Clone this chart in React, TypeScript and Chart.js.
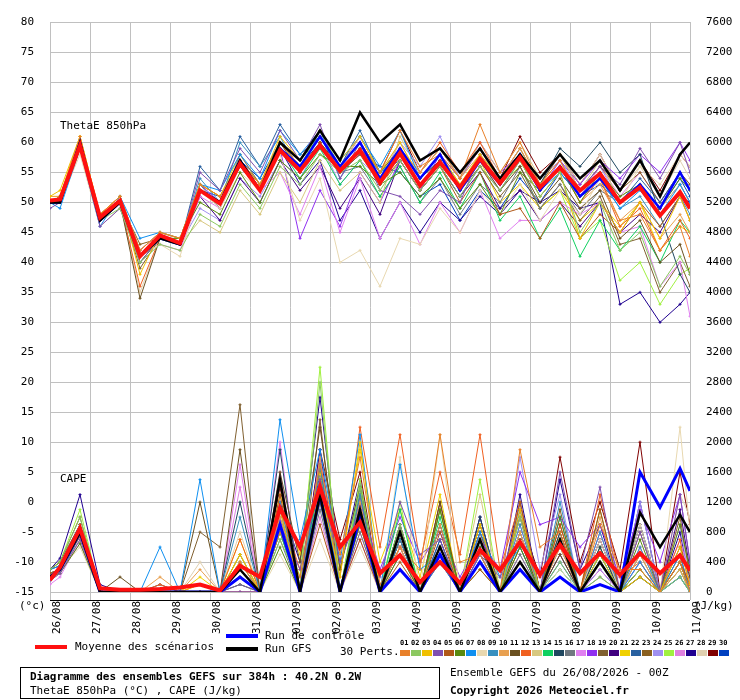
import React, { useEffect, useRef } from "react";
import { Chart, registerables } from "chart.js";

Chart.register(...registerables);

// forecast hours of each sample (00Z start, then 06Z / 18Z)
const hours = [0, 6, 18, 30, 42, 54, 66, 78, 90, 102, 114, 126, 138, 150, 162, 174, 186, 198, 210, 222, 234, 246, 258, 270, 282, 294, 306, 318, 330, 342, 354, 366, 378, 384];
const dateLabels = ["26/08", "27/08", "28/08", "29/08", "30/08", "31/08", "01/09", "02/09", "03/09", "04/09", "05/09", "06/09", "07/09", "08/09", "09/09", "10/09", "11/09"];

const pertColors = ["#e8802a", "#8cc860", "#f0c000", "#8050b0", "#b05818", "#5a8a10", "#1090f0", "#e8d8b0", "#3890c0", "#e8a050", "#6a5020", "#f06020", "#d8c880", "#10d060", "#204860", "#707880", "#e080f0", "#9030f0", "#806030", "#400080", "#f0d000", "#2860a0", "#8a6020", "#a090f0", "#a0f040", "#e080e0", "#200090", "#e0d0b0", "#800000", "#0040c0"];

// ThetaE 850hPa (°C)
const thetaMean = [50.3, 50.5, 59.5, 47.5, 50.3, 41, 44.5, 43.2, 52, 49.8, 56.5, 52, 58.7, 55.3, 59.5, 55.3, 58.7, 53.3, 58.2, 52.8, 56.7, 52.5, 57.3, 53.2, 57.5, 52.5, 55.8, 52, 54.8, 50, 52.5, 47.8, 51.7, 49];
const thetaControl = [50, 50, 60, 47, 50, 41, 44, 43, 52, 50, 57, 52, 59, 56, 61, 56, 60, 54, 59, 54, 58, 52, 57, 53, 58, 52, 56, 51, 54, 50, 53, 49, 55, 52];
const thetaGfs = [50, 50, 60, 47, 50, 41, 44, 43, 52, 50, 57, 52, 60, 57, 62, 57, 65, 60, 63, 57, 59, 55, 59, 54, 58, 54, 58, 54, 57, 52, 57, 51, 58, 60];
const thetaPerts = [
  [50, 51, 61, 48, 51, 42, 45, 44, 53, 51, 57, 53, 60, 56, 61, 56, 60, 55, 62, 56, 58, 54, 63, 55, 60, 53, 57, 51, 54, 47, 48, 42, 46, 41],
  [50, 50, 59, 47, 49, 40, 43, 42, 48, 46, 53, 49, 56, 53, 58, 55, 57, 52, 57, 52, 56, 51, 56, 52, 57, 51, 55, 45, 50, 42, 45, 36, 41, 38],
  [51, 52, 61, 48, 51, 38, 45, 44, 53, 51, 57, 53, 61, 57, 62, 57, 61, 55, 60, 54, 58, 53, 58, 54, 57, 51, 55, 44, 50, 45, 50, 44, 51, 47],
  [49, 50, 59, 46, 49, 40, 44, 43, 55, 52, 59, 55, 62, 57, 63, 54, 60, 52, 51, 48, 52, 50, 58, 53, 57, 52, 56, 52, 56, 53, 59, 54, 60, 55],
  [50, 50, 59, 47, 50, 41, 44, 43, 52, 50, 56, 52, 59, 55, 60, 55, 58, 53, 57, 52, 56, 50, 55, 48, 49, 44, 50, 44, 48, 45, 50, 46, 51, 47],
  [50, 51, 60, 48, 50, 40, 44, 44, 50, 48, 55, 50, 57, 54, 58, 56, 56, 53, 55, 51, 54, 49, 53, 48, 55, 52, 56, 50, 55, 51, 53, 49, 54, 52],
  [50, 49, 59, 46, 51, 44, 45, 44, 53, 52, 58, 54, 62, 58, 62, 57, 61, 56, 62, 54, 58, 52, 57, 53, 58, 52, 55, 51, 54, 49, 52, 48, 53, 50],
  [50, 50, 58, 46, 49, 41, 43, 41, 52, 49, 55, 52, 58, 47, 54, 40, 42, 36, 44, 43, 49, 45, 52, 48, 53, 47, 52, 48, 54, 50, 56, 53, 58, 56],
  [50, 50, 59, 47, 50, 40, 44, 43, 54, 50, 60, 56, 61, 55, 62, 54, 59, 55, 58, 53, 57, 52, 57, 54, 58, 52, 56, 51, 54, 49, 51, 46, 51, 48],
  [51, 51, 60, 48, 51, 42, 45, 44, 53, 51, 57, 53, 60, 56, 61, 56, 60, 54, 59, 55, 59, 54, 58, 54, 59, 53, 57, 50, 53, 47, 50, 44, 48, 45],
  [50, 50, 60, 47, 50, 34, 44, 43, 52, 50, 57, 53, 60, 55, 60, 55, 59, 54, 58, 53, 57, 52, 57, 52, 56, 50, 54, 49, 52, 44, 47, 40, 43, 38],
  [50, 51, 60, 47, 50, 36, 44, 43, 52, 50, 56, 52, 59, 55, 60, 55, 59, 54, 59, 55, 60, 55, 60, 54, 58, 52, 56, 50, 54, 46, 49, 42, 47, 44],
  [50, 50, 59, 47, 50, 41, 44, 43, 47, 45, 52, 48, 55, 50, 57, 52, 55, 50, 61, 55, 59, 54, 60, 55, 60, 54, 58, 52, 57, 50, 53, 49, 53, 50],
  [50, 50, 60, 47, 50, 41, 44, 43, 52, 50, 56, 52, 59, 54, 59, 53, 57, 51, 56, 50, 55, 49, 55, 47, 51, 44, 49, 41, 47, 42, 46, 40, 47, 45],
  [50, 50, 60, 47, 50, 41, 44, 43, 52, 50, 57, 52, 59, 56, 60, 56, 60, 54, 59, 54, 57, 52, 57, 53, 58, 53, 59, 56, 60, 55, 58, 48, 38, 35],
  [50, 50, 59, 47, 50, 41, 44, 43, 53, 49, 58, 53, 60, 56, 59, 55, 56, 51, 56, 50, 54, 48, 53, 50, 56, 49, 53, 48, 52, 50, 53, 49, 53, 50],
  [50, 50, 59, 47, 50, 41, 43, 42, 51, 49, 56, 52, 55, 48, 56, 45, 54, 44, 50, 43, 50, 45, 52, 44, 47, 47, 50, 48, 50, 45, 46, 36, 40, 31],
  [50, 51, 60, 48, 51, 42, 45, 44, 53, 50, 57, 53, 59, 44, 52, 46, 55, 50, 57, 52, 58, 54, 60, 55, 58, 52, 57, 53, 57, 54, 58, 55, 60, 57],
  [50, 50, 60, 47, 50, 39, 44, 43, 52, 50, 57, 52, 60, 56, 61, 56, 60, 55, 59, 54, 57, 52, 56, 51, 55, 49, 53, 47, 51, 43, 44, 35, 40, 36],
  [50, 50, 59, 47, 50, 41, 44, 43, 51, 47, 54, 50, 57, 52, 56, 49, 54, 48, 57, 52, 56, 51, 55, 49, 52, 47, 50, 46, 50, 45, 48, 45, 51, 50],
  [51, 51, 61, 48, 51, 42, 45, 44, 53, 51, 58, 53, 60, 56, 61, 56, 60, 55, 59, 54, 58, 52, 57, 50, 53, 49, 52, 47, 50, 46, 50, 42, 46, 45],
  [50, 50, 59, 47, 50, 41, 44, 43, 56, 52, 61, 56, 63, 58, 61, 56, 62, 55, 57, 52, 56, 51, 56, 52, 57, 51, 55, 51, 55, 50, 54, 50, 55, 52],
  [50, 50, 60, 47, 50, 43, 44, 43, 52, 50, 57, 52, 59, 55, 60, 55, 59, 53, 58, 53, 57, 52, 57, 54, 59, 53, 58, 52, 56, 52, 55, 50, 55, 53],
  [50, 50, 59, 47, 50, 41, 44, 43, 49, 47, 54, 51, 57, 54, 60, 53, 57, 54, 60, 56, 61, 54, 59, 53, 58, 54, 57, 52, 56, 50, 53, 49, 53, 50],
  [50, 50, 60, 47, 50, 41, 44, 44, 53, 51, 57, 53, 60, 56, 62, 56, 60, 55, 59, 54, 58, 53, 58, 53, 56, 49, 52, 44, 47, 37, 40, 33, 38, 39],
  [50, 50, 59, 47, 50, 41, 44, 43, 52, 50, 56, 52, 59, 55, 60, 55, 59, 53, 58, 53, 57, 52, 57, 52, 57, 52, 56, 51, 56, 51, 55, 50, 55, 53],
  [50, 50, 59, 47, 50, 41, 44, 43, 52, 50, 56, 52, 59, 53, 57, 47, 52, 44, 50, 45, 50, 47, 51, 48, 52, 50, 52, 49, 50, 33, 35, 30, 33, 35],
  [50, 50, 60, 47, 50, 35, 44, 43, 52, 50, 57, 52, 60, 56, 61, 56, 61, 55, 60, 54, 58, 53, 58, 54, 59, 53, 58, 53, 58, 52, 56, 51, 57, 54],
  [50, 50, 60, 47, 50, 41, 44, 43, 52, 50, 57, 53, 60, 56, 61, 56, 61, 55, 62, 55, 59, 54, 59, 54, 61, 55, 58, 53, 58, 52, 57, 52, 58, 56],
  [50, 50, 60, 47, 50, 41, 44, 43, 52, 51, 57, 54, 60, 57, 61, 55, 58, 56, 55, 51, 53, 47, 52, 49, 54, 50, 55, 51, 53, 50, 53, 49, 54, 51],
];

// CAPE (J/kg), right axis
const capeMean = [160, 330, 850, 50, 30, 30, 40, 60, 100, 20, 350, 200, 1120, 600, 1400, 600, 930, 250, 490, 130, 400, 120, 560, 290, 670, 230, 630, 250, 520, 230, 520, 250, 490, 290];
const capeControl = [200, 300, 800, 0, 0, 0, 0, 0, 0, 0, 200, 0, 900, 0, 1300, 0, 1000, 0, 300, 0, 500, 0, 400, 0, 300, 0, 200, 0, 100, 0, 1600, 1130, 1650, 1350];
const capeGfs = [200, 300, 800, 0, 0, 0, 0, 0, 0, 0, 300, 0, 1500, 0, 1300, 0, 1100, 0, 800, 0, 600, 0, 700, 0, 400, 0, 700, 0, 400, 0, 1060, 600, 1030, 800];
const capePerts = [
  [200, 300, 900, 0, 0, 0, 0, 0, 0, 0, 400, 0, 800, 200, 1700, 500, 1800, 100, 600, 300, 2100, 400, 500, 0, 1900, 600, 800, 0, 900, 300, 300, 0, 400, 0],
  [300, 400, 1000, 0, 0, 0, 0, 0, 0, 0, 300, 0, 700, 100, 2800, 0, 1400, 0, 900, 0, 600, 0, 700, 0, 1000, 0, 400, 0, 200, 0, 300, 0, 200, 0],
  [200, 300, 800, 0, 0, 0, 0, 0, 100, 0, 500, 0, 1100, 0, 1400, 200, 2000, 0, 800, 0, 600, 0, 900, 0, 1100, 0, 700, 0, 500, 0, 200, 0, 600, 100],
  [150, 250, 700, 0, 0, 0, 0, 0, 0, 0, 0, 0, 900, 300, 1500, 400, 1100, 200, 1200, 500, 700, 0, 500, 200, 1000, 0, 1600, 300, 1400, 0, 800, 0, 1300, 400],
  [250, 300, 750, 0, 0, 0, 0, 0, 0, 0, 0, 0, 1300, 0, 900, 0, 700, 0, 400, 0, 800, 0, 300, 0, 1200, 0, 900, 0, 1100, 0, 200, 0, 400, 100],
  [200, 250, 650, 0, 0, 0, 0, 0, 0, 0, 200, 0, 600, 0, 1200, 0, 900, 0, 500, 0, 1100, 0, 300, 0, 600, 0, 1000, 0, 1100, 0, 700, 0, 900, 300],
  [300, 350, 900, 0, 0, 0, 600, 0, 1500, 0, 300, 0, 2300, 700, 1900, 400, 2100, 0, 1700, 300, 500, 0, 800, 200, 600, 0, 1000, 0, 500, 0, 400, 0, 200, 0],
  [200, 300, 600, 0, 0, 0, 0, 0, 0, 0, 200, 0, 500, 0, 700, 0, 600, 0, 1800, 0, 2100, 0, 700, 0, 400, 0, 300, 0, 700, 0, 900, 0, 2200, 800],
  [250, 300, 850, 0, 0, 0, 0, 0, 0, 0, 1000, 0, 1200, 0, 1700, 0, 1300, 0, 700, 0, 400, 0, 500, 0, 900, 0, 1200, 0, 800, 0, 600, 0, 500, 0],
  [200, 300, 800, 0, 0, 0, 200, 0, 300, 0, 400, 0, 1000, 0, 1800, 0, 1200, 0, 600, 0, 900, 0, 500, 0, 800, 0, 600, 0, 1000, 0, 500, 0, 300, 0],
  [300, 400, 900, 0, 200, 0, 0, 0, 1200, 0, 1900, 0, 1600, 400, 2200, 300, 1400, 0, 900, 0, 1200, 0, 600, 0, 700, 0, 500, 0, 400, 0, 300, 0, 600, 200],
  [200, 300, 800, 0, 0, 0, 100, 0, 100, 0, 700, 0, 1100, 300, 1500, 200, 2200, 600, 2100, 400, 1600, 500, 2100, 300, 1200, 0, 900, 0, 1300, 200, 400, 0, 700, 0],
  [150, 250, 700, 0, 0, 0, 0, 0, 0, 0, 300, 0, 900, 0, 1400, 0, 900, 0, 600, 0, 500, 0, 1300, 0, 800, 0, 600, 0, 400, 0, 500, 0, 300, 0],
  [200, 300, 800, 0, 0, 0, 0, 0, 0, 0, 400, 0, 800, 0, 1500, 0, 1400, 0, 1100, 0, 1000, 0, 600, 0, 700, 0, 300, 0, 500, 0, 200, 0, 300, 0],
  [300, 350, 900, 0, 0, 0, 100, 0, 0, 0, 1200, 0, 1900, 0, 1700, 0, 1100, 0, 700, 0, 900, 0, 1000, 0, 1100, 0, 800, 0, 600, 0, 900, 0, 400, 0],
  [250, 300, 750, 0, 0, 0, 0, 0, 0, 0, 100, 0, 700, 0, 1100, 0, 800, 0, 500, 0, 600, 0, 400, 0, 500, 0, 300, 0, 200, 0, 300, 0, 200, 0],
  [100, 200, 700, 0, 0, 0, 0, 0, 0, 0, 1700, 0, 2000, 0, 1200, 0, 700, 0, 300, 0, 600, 0, 500, 0, 900, 0, 600, 0, 800, 0, 400, 0, 700, 200],
  [200, 300, 900, 0, 0, 0, 0, 0, 0, 0, 0, 0, 1000, 0, 1800, 0, 1200, 300, 1000, 400, 800, 200, 700, 300, 1600, 900, 1000, 600, 900, 200, 1100, 400, 1300, 400],
  [300, 400, 1000, 0, 0, 0, 0, 0, 800, 600, 2500, 0, 1500, 0, 2300, 0, 1300, 0, 800, 0, 1100, 0, 900, 0, 700, 0, 800, 0, 600, 0, 400, 0, 300, 0],
  [200, 300, 800, 0, 0, 0, 0, 0, 0, 0, 100, 0, 900, 0, 1900, 0, 1300, 0, 600, 0, 400, 0, 1000, 0, 800, 0, 500, 0, 700, 0, 900, 0, 1100, 300],
  [250, 300, 850, 0, 0, 0, 0, 0, 200, 0, 700, 0, 1300, 500, 1600, 300, 1900, 400, 1100, 200, 1300, 0, 900, 0, 1000, 0, 700, 0, 500, 0, 300, 0, 400, 0],
  [200, 250, 750, 0, 0, 0, 0, 0, 0, 0, 300, 0, 1100, 0, 1500, 0, 1200, 0, 800, 0, 700, 0, 1000, 0, 1200, 0, 600, 0, 400, 0, 500, 0, 200, 0],
  [250, 300, 800, 0, 0, 0, 0, 0, 0, 0, 200, 0, 800, 0, 1300, 0, 900, 0, 700, 0, 900, 0, 800, 0, 600, 0, 1100, 0, 700, 0, 800, 0, 1000, 200],
  [200, 300, 750, 0, 0, 0, 0, 0, 0, 0, 400, 0, 900, 0, 1200, 0, 1000, 0, 600, 0, 500, 0, 700, 0, 1800, 300, 1300, 0, 800, 0, 1200, 0, 900, 100],
  [300, 400, 1100, 0, 0, 0, 0, 0, 0, 0, 500, 0, 1000, 200, 3000, 0, 1500, 0, 1200, 0, 1100, 0, 1500, 0, 1000, 0, 700, 0, 600, 0, 300, 0, 400, 0],
  [150, 250, 650, 0, 0, 0, 0, 0, 0, 0, 1400, 0, 1600, 0, 1000, 0, 800, 0, 700, 0, 600, 0, 800, 0, 500, 0, 700, 0, 300, 0, 600, 0, 400, 0],
  [300, 450, 1300, 100, 0, 0, 0, 0, 0, 0, 300, 0, 1200, 400, 2600, 300, 1500, 0, 900, 0, 600, 0, 800, 0, 1300, 0, 1500, 300, 900, 0, 1200, 0, 800, 100],
  [200, 300, 700, 0, 0, 0, 0, 0, 400, 0, 800, 0, 1300, 0, 1500, 0, 1100, 0, 600, 0, 500, 0, 700, 0, 600, 0, 900, 0, 800, 0, 600, 0, 1300, 1000],
  [250, 300, 850, 0, 0, 0, 0, 0, 0, 0, 500, 0, 1400, 0, 1900, 700, 1600, 0, 700, 0, 1200, 0, 900, 0, 1000, 200, 1800, 400, 1200, 300, 2000, 0, 1600, 900],
  [200, 300, 800, 0, 0, 0, 0, 0, 0, 0, 200, 0, 900, 0, 1600, 0, 1100, 0, 600, 0, 700, 0, 500, 0, 800, 0, 400, 0, 300, 0, 200, 0, 500, 0],
];

const FONT = "'DejaVu Sans Mono', monospace";

const toPoints = (vals: number[]) => vals.map((v, i) => ({ x: hours[i], y: v }));

// dessine les dates verticales, la ligne d'axe et les libellés
const extrasPlugin = {
  id: "extras",
  afterDraw(chart: any) {
    const { ctx, chartArea, scales } = chart;
    ctx.save();
    ctx.fillStyle = "#000";
    ctx.font = `11px ${FONT}`;
    ctx.textBaseline = "middle";
    dateLabels.forEach((d, i) => {
      const x = scales.x.getPixelForValue(i * 24);
      ctx.save();
      ctx.translate(x + 7, chartArea.bottom + 9);
      ctx.rotate(-Math.PI / 2);
      ctx.textAlign = "right";
      ctx.fillText(d, 0, 0);
      ctx.restore();
    });
    ctx.strokeStyle = "#000";
    ctx.lineWidth = 1;
    ctx.beginPath();
    ctx.moveTo(chartArea.left, chartArea.bottom + 8.5);
    ctx.lineTo(chartArea.right, chartArea.bottom + 8.5);
    ctx.stroke();
    ctx.textAlign = "left";
    ctx.fillText("(°c)", 19, chartArea.bottom + 14);
    ctx.fillText("(J/kg)", chartArea.right + 4, chartArea.bottom + 14);
    ctx.fillText("ThetaE 850hPa", 60, 126);
    ctx.fillText("CAPE", 60, 479);
    ctx.restore();
  },
};

const App: React.FC = () => {
  const canvasRef = useRef<HTMLCanvasElement>(null);
  const chartRef = useRef<Chart | null>(null);

  useEffect(() => {
    if (!canvasRef.current) return;
    if (chartRef.current) chartRef.current.destroy();

    const pert = (vals: number[], axis: string, color: string) => ({
      data: toPoints(vals), yAxisID: axis, borderColor: color, backgroundColor: color,
      borderWidth: 1, pointStyle: "cross", pointRadius: 1.5, pointBorderWidth: 1, order: 3,
    });
    const main = (vals: number[], axis: string, color: string, width: number, order: number) => ({
      data: toPoints(vals), yAxisID: axis, borderColor: color, backgroundColor: color,
      borderWidth: width, pointRadius: 0, order,
    });

    chartRef.current = new Chart(canvasRef.current, {
      type: "line",
      data: {
        datasets: [
          ...thetaPerts.map((v, i) => pert(v, "y", pertColors[i])),
          ...capePerts.map((v, i) => pert(v, "y2", pertColors[i])),
          main(thetaControl, "y", "#0000ff", 2.5, 2),
          main(capeControl, "y2", "#0000ff", 3, 2),
          main(thetaGfs, "y", "#000000", 2.5, 1),
          main(capeGfs, "y2", "#000000", 2.5, 1),
          main(thetaMean, "y", "#ff1010", 4, 0),
          main(capeMean, "y2", "#ff1010", 4, 0),
        ],
      },
      options: {
        animation: false,
        responsive: false,
        devicePixelRatio: 1,
        layout: { padding: { top: 22, left: 0, right: 0, bottom: 0 } },
        plugins: { legend: { display: false }, tooltip: { enabled: false } },
        scales: {
          x: {
            type: "linear", min: 0, max: 384,
            afterFit: (s: any) => { s.height = 108; },
            afterBuildTicks: (s: any) => { s.ticks = dateLabels.map((_, i) => ({ value: i * 24 })); },
            ticks: { display: false },
            grid: { color: "#c0c0c0", tickLength: 8, tickColor: "#c0c0c0" },
            border: { display: false },
          },
          y: {
            position: "left", min: -15, max: 80,
            afterFit: (s: any) => { s.width = 50; },
            ticks: { stepSize: 5, color: "#000", font: { family: FONT, size: 11 }, padding: 16 },
            grid: { color: "#c0c0c0", drawTicks: false },
            border: { color: "#c0c0c0" },
          },
          y2: {
            position: "right", min: 0, max: 7600,
            afterFit: (s: any) => { s.width = 50; },
            ticks: { stepSize: 400, color: "#000", font: { family: FONT, size: 11 }, padding: 8, callback: (v: any) => String(v) },
            grid: { display: false },
            border: { color: "#c0c0c0" },
          },
        },
      },
      plugins: [extrasPlugin],
    } as any);

    return () => {
      if (chartRef.current) {
        chartRef.current.destroy();
        chartRef.current = null;
      }
    };
  }, []);

  const txt: React.CSSProperties = { position: "absolute", fontFamily: FONT, fontSize: 11, color: "#000", whiteSpace: "nowrap", lineHeight: "12px" };

  return (
    <div style={{ position: "absolute", left: 0, top: 0, width: 740, height: 700, background: "#fff", overflow: "hidden" }}>
      <canvas ref={canvasRef} width={740} height={700} style={{ position: "absolute", left: 0, top: 0 }} />
      {/* légende */}
      <div style={{ position: "absolute", left: 35, top: 645, width: 32, height: 4, background: "#ff1010" }} />
      <div style={{ ...txt, left: 75, top: 641 }}>Moyenne des scénarios</div>
      <div style={{ position: "absolute", left: 226, top: 634, width: 32, height: 4, background: "#0000ff" }} />
      <div style={{ ...txt, left: 265, top: 630 }}>Run de contrôle</div>
      <div style={{ position: "absolute", left: 226, top: 647, width: 32, height: 4, background: "#000" }} />
      <div style={{ ...txt, left: 265, top: 643 }}>Run GFS</div>
      <div style={{ ...txt, left: 340, top: 646 }}>30 Perts.</div>
      {pertColors.map((c, i) => (
        <React.Fragment key={i}>
          <div style={{ ...txt, left: 400 + i * 11, top: 639, fontSize: 7, lineHeight: "8px", fontWeight: "bold" }}>
            {String(i + 1).padStart(2, "0")}
          </div>
          <div style={{ position: "absolute", left: 400 + i * 11, top: 650, width: 10, height: 6, background: c }} />
        </React.Fragment>
      ))}
      <div style={{ position: "absolute", left: 20, top: 667, width: 418, height: 30, border: "1px solid #000" }} />
      <div style={{ ...txt, left: 30, top: 671, fontWeight: "bold" }}>Diagramme des ensembles GEFS sur 384h : 40.2N 0.2W</div>
      <div style={{ ...txt, left: 30, top: 685 }}>ThetaE 850hPa (°C) , CAPE (J/kg)</div>
      <div style={{ ...txt, left: 450, top: 667 }}>Ensemble GEFS du 26/08/2026 - 00Z</div>
      <div style={{ ...txt, left: 450, top: 685, fontWeight: "bold" }}>Copyright 2026 Meteociel.fr</div>
    </div>
  );
};

export default App;
